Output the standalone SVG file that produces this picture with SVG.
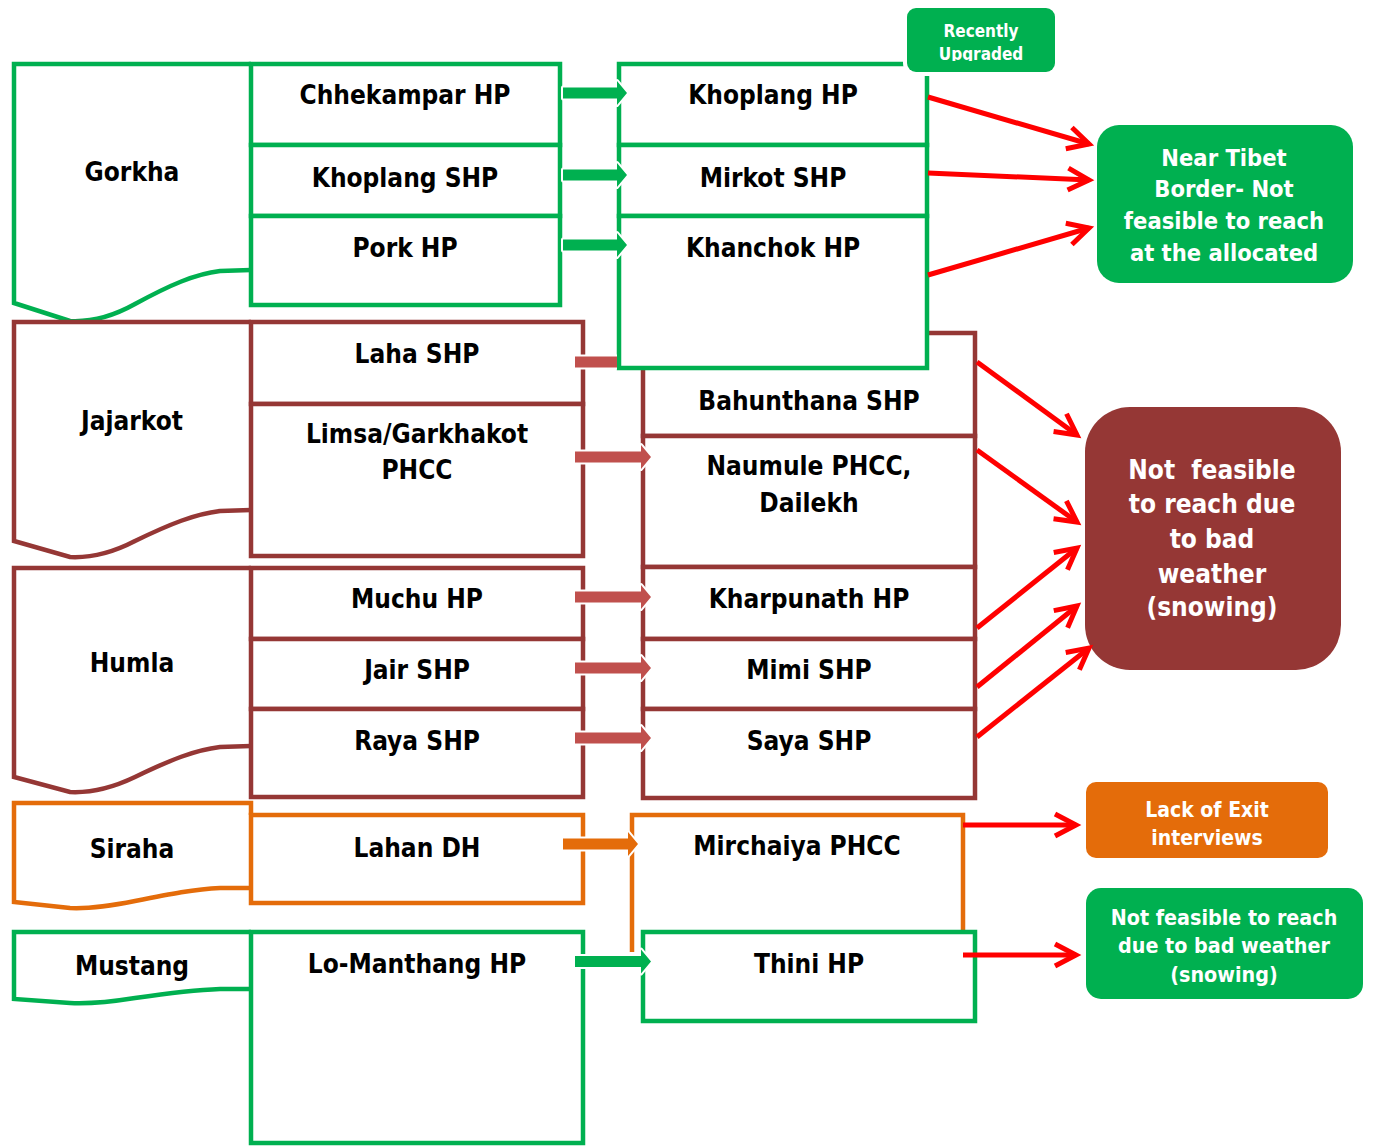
<svg xmlns="http://www.w3.org/2000/svg" width="1373" height="1146" viewBox="0 0 1373 1146">
<style>
.t{font-family:"DejaVu Sans Condensed","DejaVu Sans",sans-serif;font-weight:bold;font-size:26px;text-anchor:middle;fill:#000}
.w{font-family:"DejaVu Sans Condensed","DejaVu Sans",sans-serif;font-weight:bold;text-anchor:middle;fill:#fff}
.g{fill:#fff;stroke:#00B050;stroke-width:4.5}
.m{fill:#fff;stroke:#953735;stroke-width:4.5}
.o{fill:#fff;stroke:#E46C0A;stroke-width:4.5}
.ga{fill:#00B050;stroke:#fff;stroke-width:4;paint-order:stroke;stroke-linejoin:round}
.ma{fill:#C0504D;stroke:#fff;stroke-width:4;paint-order:stroke;stroke-linejoin:round}
.oa{fill:#E46C0A;stroke:#fff;stroke-width:4;paint-order:stroke;stroke-linejoin:round}
.ra{fill:none;stroke:#FF0000;stroke-width:5;marker-end:url(#rh)}
</style>
<defs>
<marker id="rh" markerUnits="userSpaceOnUse" markerWidth="40" markerHeight="40" viewBox="-30 -20 40 40" refX="0" refY="0" orient="auto" overflow="visible">
<path d="M-21,-11 L0,0 L-21,11" fill="none" stroke="#FF0000" stroke-width="5"/>
</marker>
<clipPath id="lahaClip"><rect x="0" y="0" width="617" height="1146"/></clipPath>
<clipPath id="recClip"><rect x="900" y="0" width="170" height="61"/></clipPath>
</defs>

<!-- Gorkha -->
<g id="gorkha">
<path class="g" d="M251,270 L220,271 C195,274 170,285 135,304 C110,318 90,322 70,321 L14,303 V64 H251"/>
<text class="t" x="132" y="181">Gorkha</text>
</g>
<g id="chhekampar"><rect class="g" x="251" y="64" width="309" height="81"/><text class="t" x="405" y="104">Chhekampar HP</text></g>
<g id="khoplang-shp"><rect class="g" x="251" y="145" width="309" height="71"/><text class="t" x="405" y="187">Khoplang SHP</text></g>
<g id="pork"><rect class="g" x="251" y="216" width="309" height="89"/><text class="t" x="405" y="257">Pork HP</text></g>

<!-- Jajarkot -->
<g id="jajarkot">
<path class="m" d="M251,510 L220,511 C195,514 170,524 135,541 C110,554 90,558 70,557 L14,541 V322 H251"/>
<text class="t" x="132" y="430">Jajarkot</text>
</g>
<g id="laha"><rect class="m" x="251" y="322" width="332" height="82"/><text class="t" x="417" y="363">Laha SHP</text></g>
<g id="limsa"><rect class="m" x="251" y="404" width="332" height="152"/><text class="t" x="417" y="443">Limsa/Garkhakot</text><text class="t" x="417" y="479">PHCC</text></g>

<!-- Humla -->
<g id="humla">
<path class="m" d="M251,746 L220,747 C195,750 170,760 135,777 C110,789 90,793 70,792 L14,777 V568 H251"/>
<text class="t" x="132" y="672">Humla</text>
</g>
<g id="muchu"><rect class="m" x="251" y="568" width="332" height="71"/><text class="t" x="417" y="608">Muchu HP</text></g>
<g id="jair"><rect class="m" x="251" y="639" width="332" height="70"/><text class="t" x="417" y="679">Jair SHP</text></g>
<g id="raya"><rect class="m" x="251" y="709" width="332" height="88"/><text class="t" x="417" y="750">Raya SHP</text></g>

<!-- Siraha -->
<g id="siraha">
<path class="o" d="M251,888 L220,888 C195,889 170,894 135,901 C110,906 90,909 70,908 L14,902 V803 H251 V815"/>
<text class="t" x="132" y="858">Siraha</text>
</g>
<g id="lahan"><rect class="o" x="251" y="815" width="332" height="88"/><text class="t" x="417" y="857">Lahan DH</text></g>

<!-- Mustang -->
<g id="mustang">
<path class="g" d="M251,989 L220,989 C195,990 170,993 135,998 C110,1002 90,1004 70,1003 L14,999 V932 H251"/>
<text class="t" x="132" y="975">Mustang</text>
</g>
<g id="lomanthang"><rect class="g" x="251" y="932" width="332" height="211"/><text class="t" x="417" y="973">Lo-Manthang HP</text></g>

<!-- Maroon targets -->
<g id="bahunthana"><rect class="m" x="643" y="333" width="332" height="103"/><text class="t" x="809" y="410">Bahunthana SHP</text></g>
<g id="naumule"><rect class="m" x="643" y="436" width="332" height="131"/><text class="t" x="809" y="475">Naumule PHCC,</text><text class="t" x="809" y="512">Dailekh</text></g>
<g id="kharpunath"><rect class="m" x="643" y="567" width="332" height="72"/><text class="t" x="809" y="608">Kharpunath HP</text></g>
<g id="mimi"><rect class="m" x="643" y="639" width="332" height="70"/><text class="t" x="809" y="679">Mimi SHP</text></g>
<g id="saya"><rect class="m" x="643" y="709" width="332" height="89"/><text class="t" x="809" y="750">Saya SHP</text></g>

<!-- Green targets -->
<g id="khoplang-hp"><rect class="g" x="619" y="64" width="308" height="81"/><text class="t" x="773" y="104">Khoplang HP</text></g>
<g id="mirkot"><rect class="g" x="619" y="145" width="308" height="71"/><text class="t" x="773" y="187">Mirkot SHP</text></g>
<g id="khanchok"><rect class="g" x="619" y="216" width="308" height="152"/><text class="t" x="773" y="257">Khanchok HP</text></g>

<g id="recently-upgraded">
<rect x="907" y="8" width="148" height="64" rx="9" fill="#00B050" stroke="#fff" stroke-width="8" paint-order="stroke"/>
<g clip-path="url(#recClip)">
<text class="w" x="981" y="37" font-size="17">Recently</text>
<text class="w" x="981" y="60" font-size="17">Upgraded</text>
</g>
</g>

<!-- Siraha / Mustang targets -->
<g id="mirchaiya"><path class="o" fill="none" d="M632,952 V815 H963 V930"/><text class="t" x="797" y="855">Mirchaiya PHCC</text></g>
<g id="thini"><rect class="g" x="643" y="932" width="332" height="89"/><text class="t" x="809" y="973">Thini HP</text></g>

<!-- Reason boxes -->
<g id="near-tibet">
<rect x="1097" y="125" width="256" height="158" rx="22" fill="#00B050"/>
<text class="w" x="1224" y="166" font-size="23.5">Near Tibet</text>
<text class="w" x="1224" y="197" font-size="23.5">Border- Not</text>
<text class="w" x="1224" y="229" font-size="23.5">feasible to reach</text>
<text class="w" x="1224" y="261" font-size="23.5">at the allocated</text>
</g>
<g id="bad-weather">
<rect x="1085" y="407" width="256" height="263" rx="45" fill="#953735"/>
<text class="w" x="1212" y="479" font-size="26" xml:space="preserve">Not  feasible</text>
<text class="w" x="1212" y="513" font-size="26">to reach due</text>
<text class="w" x="1212" y="548" font-size="26">to bad</text>
<text class="w" x="1212" y="583" font-size="26">weather</text>
<text class="w" x="1212" y="616" font-size="26">(snowing)</text>
</g>
<g id="lack-exit">
<rect x="1086" y="782" width="242" height="76" rx="10" fill="#E46C0A"/>
<text class="w" x="1207" y="817" font-size="21">Lack of Exit</text>
<text class="w" x="1207" y="845" font-size="21">interviews</text>
</g>
<g id="mustang-weather">
<rect x="1086" y="888" width="277" height="111" rx="15" fill="#00B050"/>
<text class="w" x="1224" y="925" font-size="21.3">Not feasible to reach</text>
<text class="w" x="1224" y="953" font-size="21.3">due to bad weather</text>
<text class="w" x="1224" y="982" font-size="21.3">(snowing)</text>
</g>

<!-- Connectors -->
<g id="connectors">
<path class="ga" d="M563,87.5 H617 V81 L627,93 L617,105 V98.5 H563 Z"/>
<path class="ga" d="M563,169.5 H617 V163 L627,175 L617,187 V180.5 H563 Z"/>
<path class="ga" d="M563,239.5 H617 V233 L627,245 L617,257 V250.5 H563 Z"/>
<path class="ma" clip-path="url(#lahaClip)" d="M575,356.5 H641 V350 L651,362 L641,374 V367.5 H575 Z"/>
<path class="ma" d="M575,451.5 H641 V445 L651,457 L641,469 V462.5 H575 Z"/>
<path class="ma" d="M575,591.5 H641 V585 L651,597 L641,609 V602.5 H575 Z"/>
<path class="ma" d="M575,662.5 H641 V656 L651,668 L641,680 V673.5 H575 Z"/>
<path class="ma" d="M575,732.5 H641 V726 L651,738 L641,750 V743.5 H575 Z"/>
<path class="oa" d="M563,838.5 H628 V832 L638,844 L628,856 V849.5 H563 Z"/>
<path class="ga" d="M575,956 H641 V949.5 L651,961.5 L641,973.5 V967 H575 Z"/>

<path class="ra" d="M928,97 L1089,144"/>
<path class="ra" d="M928,173 L1089,180"/>
<path class="ra" d="M928,275 L1089,228"/>
<path class="ra" d="M977,362 L1077,435"/>
<path class="ra" d="M977,450 L1077,522"/>
<path class="ra" d="M977,628 L1077,548"/>
<path class="ra" d="M977,687 L1077,606"/>
<path class="ra" d="M977,737 L1089,648"/>
<path class="ra" d="M963,825 L1076,825"/>
<path class="ra" d="M963,955 L1076,955"/>
</g>
</svg>
